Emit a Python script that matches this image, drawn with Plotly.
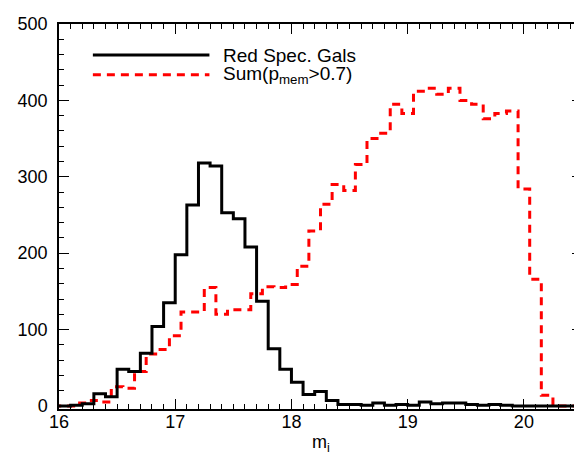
import numpy as np
import plotly.graph_objects as go

# Black histogram: bins of 0.1 starting at 16.0 (values per bin)
red_spec_bin_start = 16.0
red_spec_counts = [0, 1, 3, 16, 12, 48, 45, 69, 104, 135,
                   198, 263, 318, 314, 253, 245, 208, 137, 75, 48,
                   31, 15, 19, 7, 2, 2, 1, 4, 1, 2,
                   1, 5, 3, 4, 4, 2, 1, 2, 1, 0,
                   0, 0, 0, 0, 0]

# Red histogram: bins of 0.1 centred at 16.0 ... 20.4
pmem_bin_centers_start = 16.0
pmem_counts = [0, 0, 4, 7, 5, 25, 23, 45, 68, 74,
               92, 123, 123, 155, 120, 126, 126, 147, 156, 155,
               159, 183, 229, 264, 290, 282, 316, 350, 357, 395,
               383, 412, 416, 408, 416, 400, 395, 376, 383, 386,
               284, 166, 14, 0, 0]

binw = 0.1
x_ticks = [16, 17, 18, 19, 20]
y_ticks = [0, 100, 200, 300, 400, 500]


def step_xy(edge0, counts):
    edges = edge0 + binw * np.arange(len(counts) + 1)
    ys = list(counts) + [counts[-1]]
    return edges, ys


bx, by = step_xy(red_spec_bin_start, red_spec_counts)
rx, ry = step_xy(pmem_bin_centers_start - binw / 2, pmem_counts)

fig = go.Figure()
fig.add_trace(go.Scatter(x=rx, y=ry, mode="lines", line_shape="hv",
                         line=dict(color="#ff0000", width=3, dash="8px,6px"),
                         showlegend=False))
fig.add_trace(go.Scatter(x=bx, y=by, mode="lines", line_shape="hv",
                         line=dict(color="black", width=3),
                         showlegend=False))

font = dict(family="Liberation Sans, Arial, sans-serif", color="black")

# custom legend
fig.add_shape(type="line", xref="paper", yref="paper", x0=34/525, x1=151/525,
              y0=1 - 31.5/390, y1=1 - 31.5/390, line=dict(color="black", width=3))
fig.add_shape(type="line", xref="paper", yref="paper", x0=34/525, x1=151/525,
              y0=1 - 51.5/390, y1=1 - 51.5/390,
              line=dict(color="#ff0000", width=3, dash="8px,6px"))
fig.add_annotation(text="Red Spec. Gals", xref="paper", yref="paper",
                   x=163/525, y=1 - 31.5/390, xanchor="left", yanchor="middle",
                   showarrow=False, font=dict(size=19, **font))
fig.add_annotation(text="Sum(p<sub>mem</sub>&gt;0.7)", xref="paper", yref="paper",
                   x=163/525, y=1 - 51.5/390, xanchor="left", yanchor="middle",
                   showarrow=False, font=dict(size=19, **font))

# x-axis title
fig.add_annotation(text="m<sub>i</sub>", xref="paper", yref="paper",
                   x=0.5, y=-35/390, xanchor="center", yanchor="middle",
                   showarrow=False, font=dict(size=18, **font))

axis_common = dict(showgrid=False, zeroline=False, showline=True, linecolor="black",
                   linewidth=1.5, mirror="allticks", ticks="inside", ticklen=10,
                   tickwidth=1.2, tickcolor="black",
                   tickfont=dict(size=18, **font))

fig.update_xaxes(range=[16, 20.5], tickvals=x_ticks,
                 minor=dict(ticks="inside", ticklen=5, dtick=0.1, tick0=16,
                            tickcolor="black", tickwidth=1.2),
                 ticklabelstandoff=-4,
                 **axis_common)
fig.update_yaxes(range=[-4, 500], tickvals=y_ticks,
                 minor=dict(ticks="inside", ticklen=5, dtick=20, tick0=0,
                            tickcolor="black", tickwidth=1.2),
                 ticklabelstandoff=6,
                 **axis_common)

fig.update_layout(width=582, height=454, margin=dict(l=51, r=6, t=11, b=53),
                  plot_bgcolor="white", paper_bgcolor="white", font=font)

fig.write_html("out.html")
